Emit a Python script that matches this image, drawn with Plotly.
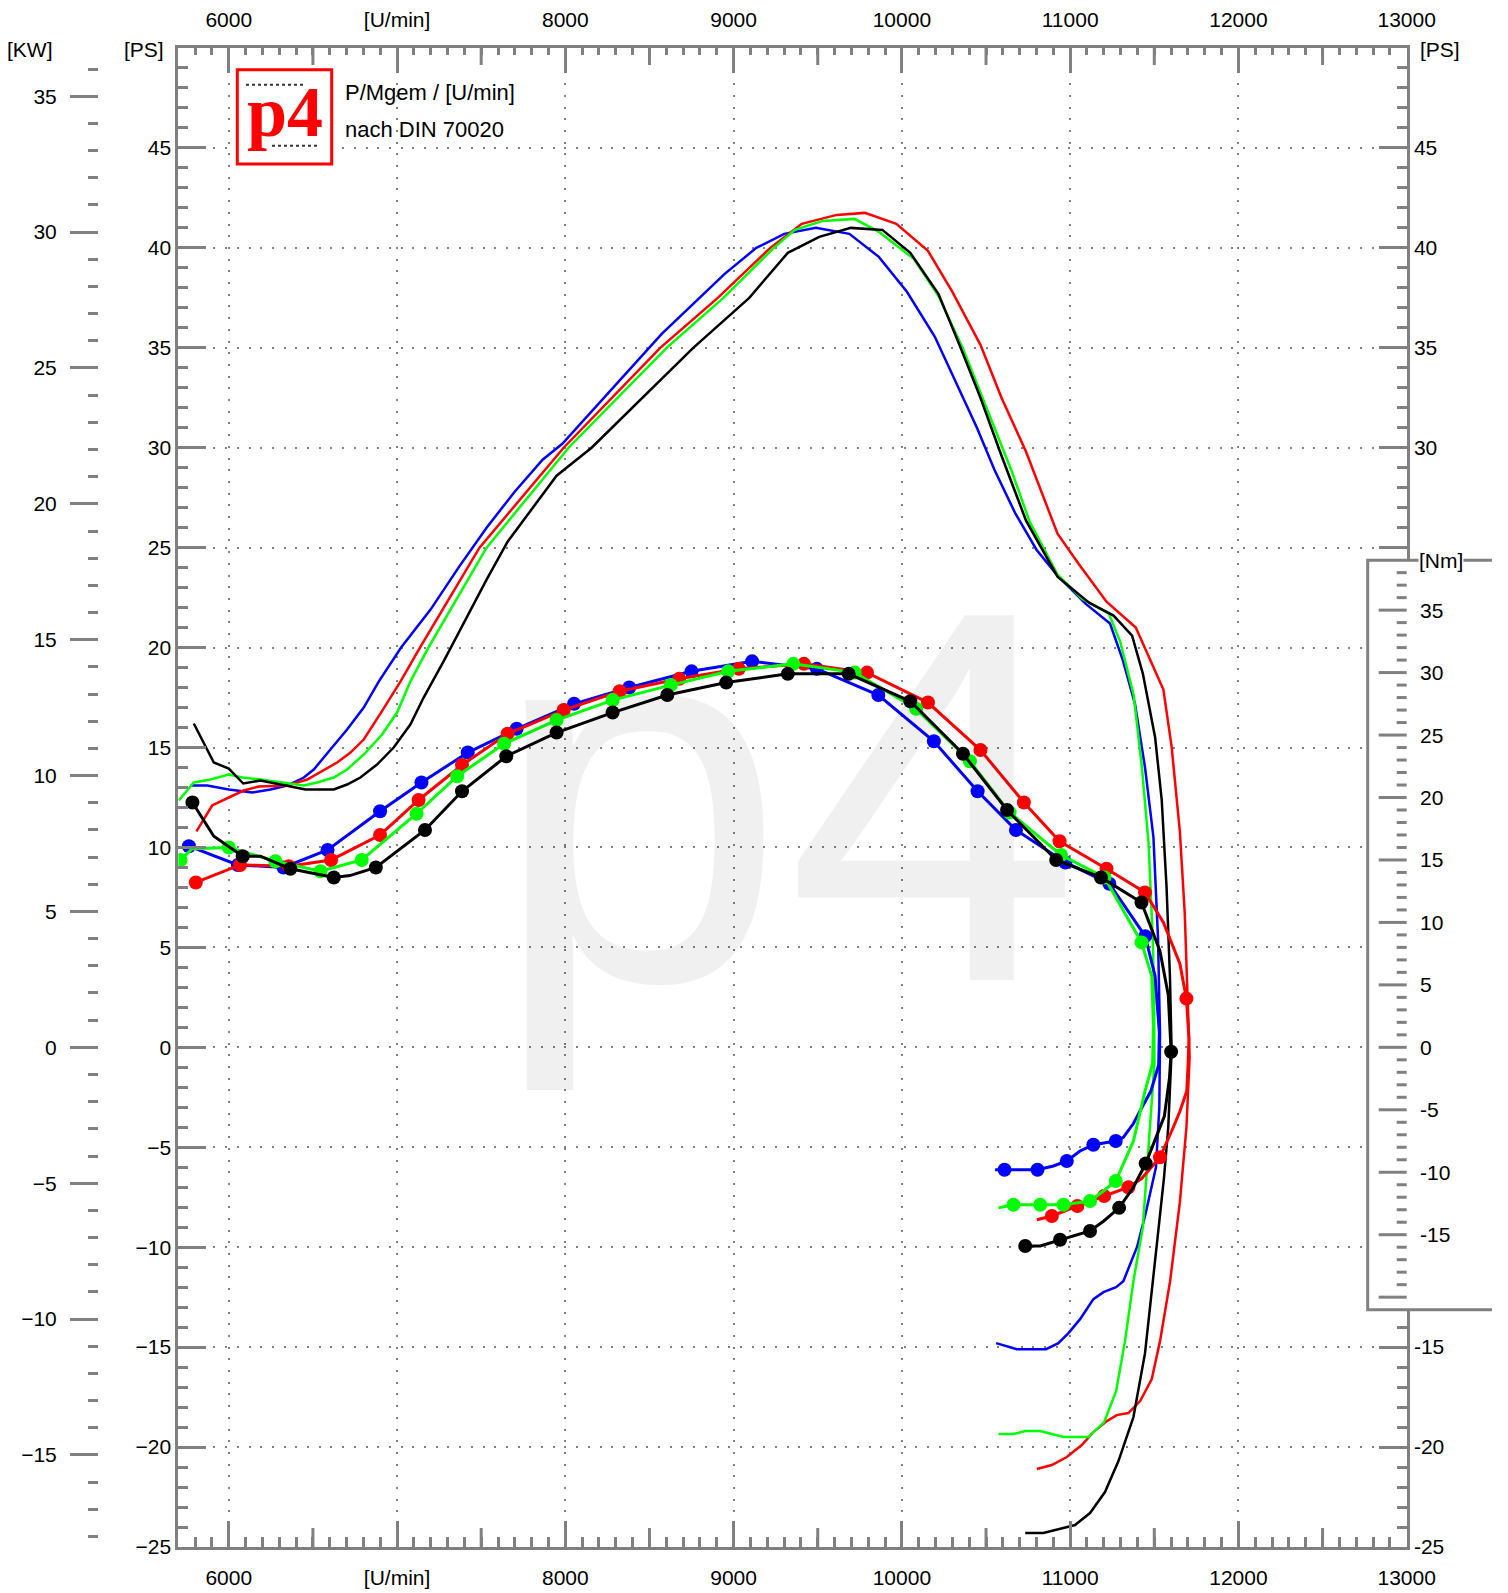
import plotly.graph_objects as go

# ---------------- data ----------------
rpm_tick_vals = [6000, 7000, 8000, 9000, 10000, 11000, 12000, 13000]
rpm_tick_text = ["6000", "[U/min]", "8000", "9000", "10000", "11000", "12000", "13000"]
ps_tick_vals = [-25, -20, -15, -10, -5, 0, 5, 10, 15, 20, 25, 30, 35, 40, 45]
ps_right_text = ["-25", "-20", "-15", "", "", "", "", "", "", "", "", "30", "35", "40", "45"]
kw_tick_vals = [-15, -10, -5, 0, 5, 10, 15, 20, 25, 30, 35]
nm_tick_vals = [-15, -10, -5, 0, 5, 10, 15, 20, 25, 30, 35]

# power curves [PS] over engine speed [U/min] (incl. drag part)
pw_blue_rpm = [5773, 5872, 6000, 6139, 6248, 6347, 6446, 6505, 6604, 6703, 6802, 6891, 7024, 7199, 7365, 7532,
               7699, 7865, 7982, 8198, 8365, 8573, 8760, 8947, 9135, 9301, 9489, 9688, 9863, 10030, 10196, 10321,
               10446, 10550, 10675, 10800, 10925, 11091, 11237, 11312, 11385, 11445, 11495, 11522, 11534, 11530,
               11510, 11446, 11397, 11316, 11273, 11198, 11138, 11059, 10990, 10930, 10857, 10683, 10560]
pw_blue_ps = [13.1, 13.1, 12.9, 12.75, 12.9, 13.1, 13.5, 13.9, 14.9, 15.9, 17.0, 18.3, 20.0, 21.9, 24.0, 26.0,
              27.8, 29.4, 30.2, 32.2, 33.8, 35.7, 37.2, 38.7, 40.0, 40.7, 41.0, 40.7, 39.55, 37.8, 35.55, 33.3,
              31.0, 28.9, 26.7, 24.9, 23.6, 22.2, 21.2, 19.4, 17.2, 14.0, 10.5, 5.5, 0.7, -3.0,
              -6.0, -8.4, -10.0, -11.7, -12.0, -12.25, -12.6, -13.6, -14.3, -14.8, -15.1, -15.1, -14.8]

pw_red_rpm = [5808, 5901, 6000, 6089, 6178, 6347, 6466, 6564, 6644, 6723, 6802, 6901, 7020, 7136, 7490, 7990,
              8564, 8906, 9218, 9405, 9613, 9780, 9967, 10155, 10300, 10467, 10592, 10738, 10925, 11050, 11216,
              11390, 11554, 11603, 11652, 11681, 11701, 11710, 11691, 11652, 11594, 11534, 11485, 11416, 11346,
              11277, 11218, 11138, 11069, 10980, 10891, 10802]
pw_red_ps = [10.8, 12.1, 12.5, 12.85, 13.05, 13.1, 13.4, 13.85, 14.25, 14.75, 15.4, 16.7, 18.3, 20.0, 25.0, 30.0,
             35.0, 37.5, 40.0, 41.2, 41.65, 41.75, 41.2, 39.85, 37.8, 35.15, 32.5, 29.8, 25.7, 24.2, 22.3,
             21.0, 17.9, 15.05, 10.8, 6.7, 2.3, -0.5, -4.0, -7.75, -11.7, -14.7, -16.6, -17.7, -18.3,
             -18.4, -18.7, -19.25, -19.9, -20.5, -20.9, -21.1]

pw_green_rpm = [5703, 5792, 5891, 6000, 6080, 6188, 6446, 6525, 6624, 6703, 6802, 6911, 7000, 7079, 7186, 7532,
                8019, 8602, 8939, 9239, 9364, 9530, 9718, 9863, 10071, 10217, 10363, 10509, 10654, 10759, 10925,
                11071, 11230, 11299, 11378, 11427, 11466, 11491, 11499, 11501, 11432, 11376, 11326, 11273, 11202,
                11108, 10960, 10822, 10733, 10663, 10574]
pw_green_ps = [12.35, 13.25, 13.4, 13.65, 13.5, 13.4, 13.1, 13.25, 13.5, 13.9, 14.65, 15.65, 16.75, 18.3, 20.0, 25.0,
               30.0, 35.0, 37.5, 40.0, 40.9, 41.35, 41.45, 40.8, 39.45, 37.6, 34.95, 31.85, 28.8, 26.3, 23.65,
               22.45, 21.7, 20.25, 17.6, 13.95, 10.2, 5.45, 2.3, -0.8, -9.0, -11.7, -14.7, -17.2, -18.75,
               -19.5, -19.5, -19.2, -19.2, -19.35, -19.35]

pw_black_rpm = [5792, 5911, 6000, 6086, 6188, 6456, 6624, 6703, 6782, 6881, 6980, 7079, 7158, 7282, 7532, 7657,
                7948, 8156, 8760, 9093, 9322, 9509, 9697, 9884, 10050, 10217, 10342, 10467, 10592, 10738, 10925,
                11112, 11258, 11368, 11432, 11505, 11544, 11573, 11593, 11603, 11583, 11558, 11530, 11491, 11445,
                11376, 11287, 11207, 11118, 11029, 10940, 10841, 10733]
pw_black_ps = [16.2, 14.25, 13.95, 13.2, 13.35, 12.9, 12.9, 13.15, 13.5, 14.15, 15.0, 16.15, 17.5, 19.4, 23.4, 25.3,
               28.6, 30.0, 35.0, 37.5, 39.75, 40.55, 41.0, 40.9, 39.75, 37.7, 35.15, 32.5, 29.6, 26.35, 23.55,
               22.25, 21.6, 20.6, 18.7, 15.5, 12.4, 8.0, 3.55, -0.2, -4.0, -6.5, -8.7, -11.7, -15.3,
               -18.5, -20.7, -22.25, -23.3, -23.9, -24.1, -24.3, -24.3]

# torque curves [Nm] over engine speed [U/min]; *_dots = indices of measured points drawn as dots
tq_blue_rpm = [5763, 6054, 6325, 6587, 6899, 7145, 7420, 7711, 8052, 8380, 8750, 9110, 9495, 9860, 10190, 10450,
               10678, 10972, 11233, 11446, 11505, 11530, 11526, 11480, 11415, 11376, 11316, 11271, 11138, 11059,
               10980, 10901, 10806, 10610, 10554]
tq_blue_nm = [16.1, 14.6, 14.4, 15.8, 18.9, 21.2, 23.6, 25.5, 27.5, 28.8, 30.1, 30.9, 30.3, 28.2, 24.5, 20.5,
              17.4, 14.8, 13.1, 8.9, 5.7, 1.2, -1.4, -3.5, -5.1, -6.1, -7.2, -7.5, -7.8, -8.3,
              -9.1, -9.5, -9.8, -9.8, -9.8]
tq_blue_dots = list(range(0, 20)) + [27, 28, 30, 32, 33]

tq_red_rpm = [5804, 6067, 6356, 6608, 6899, 7128, 7386, 7657, 7990, 8323, 8677, 9031, 9418, 9793, 10155, 10467,
              10725, 10937, 11216, 11445, 11554, 11652, 11691, 11706, 11701, 11693, 11653, 11613, 11534, 11425,
              11346, 11202, 11043, 10891, 10802]
tq_red_nm = [13.2, 14.6, 14.5, 15.0, 17.0, 19.8, 22.6, 25.1, 27.0, 28.5, 29.5, 30.3, 30.7, 30.0, 27.6, 23.8,
             19.6, 16.5, 14.3, 12.4, 10.0, 6.7, 3.9, 0.7, -1.3, -3.5, -5.1, -6.4, -8.8, -10.5,
             -11.2, -11.9, -12.7, -13.5, -13.8]
tq_red_dots = list(range(0, 20)) + [22, 28, 30, 31, 32, 33]

tq_green_rpm = [5713, 5783, 6000, 6277, 6545, 6790, 7116, 7357, 7636, 7948, 8281, 8627, 8968, 9355, 9720, 10085,
                10404, 10640, 10946, 11204, 11424, 11485, 11495, 11490, 11445, 11376, 11271, 11198, 11118, 10960,
                10822, 10663, 10574]
tq_green_nm = [15.0, 15.9, 16.0, 14.9, 14.1, 15.0, 18.7, 21.7, 24.3, 26.2, 27.8, 29.0, 30.1, 30.7, 30.0, 27.1,
               22.9, 18.8, 15.4, 13.6, 8.4, 5.7, 1.7, -1.3, -3.5, -7.5, -10.7, -11.5, -12.3, -12.6,
               -12.6, -12.6, -12.85]
tq_green_dots = [0] + list(range(2, 21)) + [26, 28, 29, 30, 31]

tq_black_rpm = [5784, 5911, 6083, 6188, 6366, 6624, 6720, 6874, 7166, 7386, 7649, 7948, 8281, 8606, 8956, 9322,
                9684, 10050, 10363, 10625, 10917, 11183, 11424, 11534, 11583, 11600, 11590, 11560, 11449, 11376,
                11291, 11200, 11118, 10940, 10822, 10733]
tq_black_nm = [19.6, 16.9, 15.3, 15.3, 14.3, 13.6, 13.75, 14.4, 17.4, 20.5, 23.3, 25.2, 26.8, 28.2, 29.2, 29.9,
               29.9, 27.7, 23.5, 19.0, 15.0, 13.6, 11.6, 7.7, 4.2, -0.35, -2.5, -5.5, -9.3, -11.2,
               -12.85, -13.9, -14.7, -15.4, -15.9, -15.9]
tq_black_dots = [0, 2, 4, 5] + list(range(7, 23)) + [25, 28, 30, 32, 33, 35]

# ---------------- geometry / style ----------------
W, H = 1508, 1593
PL, PR, PT, PB = 178.3, 1406.7, 48.3, 1546.7      # plot area in px
X_RANGE = [5700, 13000]
PS_RANGE = [-25, 50]
NM_RANGE = [-40, 80]
PS_PER_KW = 1.35962
GREY = "#808080"
SANS = "Liberation Sans, Arial, Helvetica, sans-serif"
SERIF = "Liberation Serif, Times New Roman, serif"
TF = dict(family=SANS, size=21, color="black")


def fx(p):
    return p / W


def fy(p):
    return (PB - p) / (PB - PT)


series = [
    ("#0000ff", pw_blue_rpm, pw_blue_ps, tq_blue_rpm, tq_blue_nm, tq_blue_dots),
    ("#ff0000", pw_red_rpm, pw_red_ps, tq_red_rpm, tq_red_nm, tq_red_dots),
    ("#00ff00", pw_green_rpm, pw_green_ps, tq_green_rpm, tq_green_nm, tq_green_dots),
    ("#000000", pw_black_rpm, pw_black_ps, tq_black_rpm, tq_black_nm, tq_black_dots),
]

fig = go.Figure()
# power [PS]
for col, prpm, pps, trpm, tnm, tdots in series:
    fig.add_trace(go.Scatter(x=prpm, y=pps, mode="lines", line=dict(color=col, width=2.5),
                             xaxis="x", yaxis="y", showlegend=False, hoverinfo="skip"))
# torque [Nm]
for col, prpm, pps, trpm, tnm, tdots in series:
    fig.add_trace(go.Scatter(x=trpm, y=tnm, mode="lines", line=dict(color=col, width=3),
                             xaxis="x", yaxis="y2", showlegend=False, hoverinfo="skip"))
    fig.add_trace(go.Scatter(x=[trpm[i] for i in tdots], y=[tnm[i] for i in tdots], mode="markers",
                             marker=dict(color=col, size=14, line=dict(width=0)),
                             xaxis="x", yaxis="y2", showlegend=False, hoverinfo="skip"))
# one power series bound (hidden) to the top rpm scale, the right PS scale and the kW scale,
# so that plotly draws these secondary scales
fig.add_trace(go.Scatter(x=pw_black_rpm, y=pw_black_ps, mode="lines", xaxis="x2", yaxis="y",
                         visible="legendonly", showlegend=False, hoverinfo="skip"))
fig.add_trace(go.Scatter(x=pw_black_rpm, y=pw_black_ps, mode="lines", xaxis="x", yaxis="y3",
                         visible="legendonly", showlegend=False, hoverinfo="skip"))
fig.add_trace(go.Scatter(x=pw_black_rpm, y=[v / PS_PER_KW for v in pw_black_ps], mode="lines", xaxis="x",
                         yaxis="y4", visible="legendonly", showlegend=False, hoverinfo="skip"))

grid = dict(showgrid=True, gridcolor=GREY, gridwidth=2, griddash="2px,9.7px")
common_x = dict(range=X_RANGE, tickmode="array", tickvals=rpm_tick_vals, ticktext=rpm_tick_text,
                tickfont=TF, showline=True, linecolor=GREY, linewidth=3, zeroline=False,
                ticks="inside", tickcolor=GREY, tickwidth=3, ticklabelstandoff=10)

shapes = []
# medium ticks at the 500 marks (bottom and top frame)
for r in range(6500, 13000, 1000):
    shapes.append(dict(type="line", xref="x", yref="paper", ysizemode="pixel", yanchor=0,
                       x0=r, x1=r, y0=0, y1=19, line=dict(color=GREY, width=3), layer="above"))
    shapes.append(dict(type="line", xref="x", yref="paper", ysizemode="pixel", yanchor=1,
                       x0=r, x1=r, y0=0, y1=-17, line=dict(color=GREY, width=3), layer="above"))

# Nm scale box (covers the right PS scale in that range)
shapes.append(dict(type="rect", xref="paper", yref="y2", x0=fx(1367.7), x1=fx(1506), y0=-21, y1=39,
                   fillcolor="white", line=dict(width=0), layer="above"))
shapes.append(dict(type="path", xref="paper", yref="y2",
                   path=f"M {fx(1492)},39 L {fx(1367.7)},39 L {fx(1367.7)},-21 L {fx(1492)},-21",
                   line=dict(color=GREY, width=3), layer="above"))
for v in range(-20, 39):
    ln = 28 if v % 5 == 0 else 10
    shapes.append(dict(type="line", xref="paper", yref="y2", xsizemode="pixel", xanchor=fx(PR),
                       x0=-ln, x1=0, y0=v, y1=v, line=dict(color=GREY, width=3), layer="above"))

# logo box
shapes.append(dict(type="rect", xref="paper", yref="paper", x0=fx(237.3), x1=fx(331.7), y0=fy(164.3), y1=fy(70),
                   fillcolor="white", line=dict(color="#ff0000", width=3), layer="above"))
shapes.append(dict(type="line", xref="paper", yref="paper", x0=fx(246), x1=fx(304), y0=fy(85), y1=fy(85),
                   line=dict(color="#333333", width=2, dash="dot"), layer="above"))
shapes.append(dict(type="line", xref="paper", yref="paper", x0=fx(272), x1=fx(318), y0=fy(146), y1=fy(146),
                   line=dict(color="#333333", width=2, dash="dot"), layer="above"))

ann = []
# watermark
ann.append(dict(text="p4", xref="paper", yref="paper", x=fx(786), y=fy(798), xanchor="center", yanchor="middle",
                showarrow=False, font=dict(family=SANS, size=530, color="rgba(0,0,0,0.06)")))
# logo text
ann.append(dict(text="<b>p4</b>", xref="paper", yref="paper", x=fx(285), y=fy(112), xanchor="center",
                yanchor="middle", showarrow=False, font=dict(family=SERIF, size=72, color="#ff0000")))
ann.append(dict(text="P/Mgem / [U/min]", xref="paper", yref="paper", x=fx(343), y=fy(92.4), xanchor="left",
                yanchor="middle", showarrow=False, font=dict(family=SANS, size=22, color="black")))
ann.append(dict(text="nach DIN 70020", xref="paper", yref="paper", x=fx(343), y=fy(129.7), xanchor="left",
                yanchor="middle", showarrow=False, font=dict(family=SANS, size=22, color="black")))
# unit headers
ann.append(dict(text="[KW]", xref="paper", yref="paper", x=fx(55), y=fy(49.4), xanchor="right",
                yanchor="middle", showarrow=False, font=TF))
ann.append(dict(text="[PS]", xref="paper", yref="paper", x=fx(165.7), y=fy(49.4), xanchor="right",
                yanchor="middle", showarrow=False, font=TF))
ann.append(dict(text="[PS]", xref="paper", yref="paper", x=fx(1418.3), y=fy(49.4), xanchor="left",
                yanchor="middle", showarrow=False, font=TF))
ann.append(dict(text="[Nm]", xref="paper", yref="y2", x=fx(1418.3), y=39, xanchor="left",
                yanchor="middle", showarrow=False, font=TF, bgcolor="white", borderpad=0))
for v in nm_tick_vals:
    ann.append(dict(text=str(v), xref="paper", yref="y2", x=fx(1418.3), y=v, xanchor="left",
                    yanchor="middle", showarrow=False, font=TF))

fig.update_layout(
    width=W, height=H, autosize=False,
    margin=dict(l=0, r=0, t=PT, b=H - PB, pad=0, autoexpand=False),
    paper_bgcolor="white", plot_bgcolor="white",
    hovermode=False, showlegend=False,
    xaxis=dict(domain=[fx(PL), fx(PR)], side="bottom", anchor="y", ticklen=26, **common_x, **grid,
               minor=dict(ticks="inside", dtick=100, tick0=0, ticklen=10, tickwidth=3, tickcolor=GREY,
                          showgrid=False)),
    xaxis2=dict(overlaying="x", side="top", anchor="y", ticklen=25, **common_x, showgrid=False,
                minor=dict(ticks="inside", dtick=100, tick0=0, ticklen=7, tickwidth=3, tickcolor=GREY,
                           showgrid=False)),
    yaxis=dict(domain=[0, 1], range=PS_RANGE, side="left", anchor="x", tickmode="array",
               tickvals=ps_tick_vals, tickfont=TF, showline=True, linecolor=GREY, linewidth=3,
               zeroline=False, ticks="inside", ticklen=28, tickwidth=3, tickcolor=GREY, **grid,
               minor=dict(ticks="inside", dtick=1, tick0=0, ticklen=10, tickwidth=3, tickcolor=GREY,
                          showgrid=False)),
    yaxis2=dict(overlaying="y", range=NM_RANGE, visible=False, side="right"),
    yaxis3=dict(overlaying="y", range=PS_RANGE, side="right", anchor="x", tickmode="array",
                tickvals=ps_tick_vals, ticktext=ps_right_text, tickfont=TF, showline=True, linecolor=GREY,
                linewidth=3, zeroline=False, showgrid=False, ticks="inside", ticklen=28, tickwidth=3,
                tickcolor=GREY,
                minor=dict(ticks="inside", dtick=1, tick0=0, ticklen=10, tickwidth=3, tickcolor=GREY,
                           showgrid=False)),
    yaxis4=dict(overlaying="y", anchor="free", position=fx(97.7), side="left",
                range=[PS_RANGE[0] / PS_PER_KW, PS_RANGE[1] / PS_PER_KW], tickmode="array",
                tickvals=kw_tick_vals, tickfont=TF, showline=False, zeroline=False, showgrid=False,
                ticks="outside", ticklen=27.7, tickwidth=3, tickcolor=GREY, ticklabelstandoff=9,
                minor=dict(ticks="outside", dtick=1, tick0=0, ticklen=9.4, tickwidth=3, tickcolor=GREY,
                           showgrid=False)),
    shapes=shapes,
    annotations=ann,
)

fig.write_html(
    "out.html", include_plotlyjs=True, config={"displayModeBar": False, "responsive": False},
    post_script=("document.body.style.margin='0px';document.body.style.overflow='hidden';"
                 "var gd=document.getElementsByClassName('plotly-graph-div')[0];"
                 "Plotly.relayout(gd,{width:1508,height:1593,autosize:false});"))
